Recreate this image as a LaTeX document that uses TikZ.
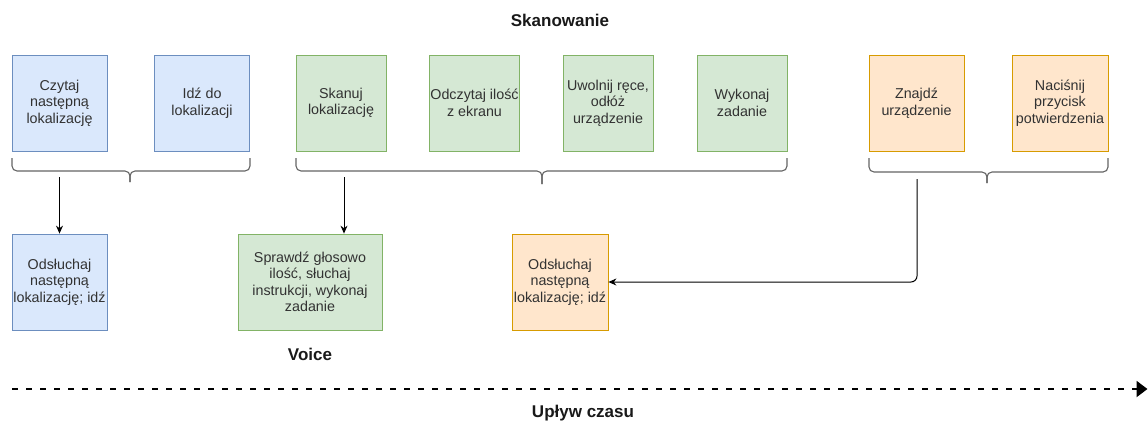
\documentclass[tikz,border=0pt]{standalone}
\usepackage{fontspec}
\setmainfont{Liberation Sans}
\usetikzlibrary{arrows.meta,calc}
\definecolor{bluefill}{HTML}{DAE8FC}
\definecolor{bluedraw}{HTML}{6C8EBF}
\definecolor{greenfill}{HTML}{D5E8D4}
\definecolor{greendraw}{HTML}{82B366}
\definecolor{orangefill}{HTML}{FFE6CC}
\definecolor{orangedraw}{HTML}{D79B00}
\definecolor{bodytext}{RGB}{50,50,50}
\definecolor{bracegray}{RGB}{100,100,100}
\tikzset{
  box/.style={draw, line width=0.8pt, minimum height=96pt, inner sep=0pt,
    align=center, text=bodytext, font=\fontsize{14.3}{16.5}\selectfont},
  bluebox/.style={box, fill=bluefill, draw=bluedraw, minimum width=95pt},
  greenbox/.style={box, fill=greenfill, draw=greendraw, minimum width=90pt},
  orangebox/.style={box, fill=orangefill, draw=orangedraw, minimum width=95pt},
  heading/.style={font=\bfseries\fontsize{17}{20}\selectfont, text=black!90},
  bracket/.style={draw=bracegray, line width=1.1pt, rounded corners=5pt},
  conn/.style={draw=black, line width=1pt, -{Stealth[length=8pt,width=7pt]}},
  timeline/.style={draw=black, line width=2pt, dash pattern=on 6pt off 8pt,
    -{Triangle[length=11pt,width=16pt]}}
}
\begin{document}
\begin{tikzpicture}[x=1pt,y=-1pt]
  \useasboundingbox (0,0) rectangle (1148,423);

  % top row of steps
  \node[bluebox] (czytaj) at (59.5,103) {Czytaj\\następną\\lokalizację};
  \node[bluebox] (idz) at (202,103) {Idź do\\lokalizacji};
  \node[greenbox] (skanuj) at (341,103) {Skanuj\\lokalizację};
  \node[greenbox] (odczytaj) at (474.5,103) {Odczytaj ilość\\z ekranu};
  \node[greenbox] (uwolnij) at (608,103) {Uwolnij ręce,\\odłóż\\urządzenie};
  \node[greenbox] (wykonaj) at (742,103) {Wykonaj\\zadanie};
  \node[orangebox] (znajdz) at (916.5,103) {Znajdź\\urządzenie};
  \node[orangebox, minimum width=96pt] (nacisnij) at (1060,103) {Naciśnij\\przycisk\\potwierdzenia};

  % bottom row of steps
  \node[bluebox] (odsluchaj) at (59.5,282) {Odsłuchaj\\następną\\lokalizację; idź};
  \node[greenbox, minimum width=144pt] (sprawdz) at (310,282) {Sprawdź głosowo\\ilość, słuchaj\\instrukcji, wykonaj\\zadanie};
  \node[orangebox, minimum width=96pt] (odsluchajB) at (560,282) {Odsłuchaj\\następną\\lokalizację; idź};

  % headings
  \node[heading] (skanowanie) at (560,20) {Skanowanie};
  \node[heading] (voice) at (310,354) {Voice};
  \node[heading] (uplyw) at (583,413) {Upływ czasu};

  % curly brackets under the groups
  \draw[bracket] (12,158) |- (130,171) -- (130,182);
  \draw[bracket] (250,158) |- (130,171) -- (130,182);
  \draw[bracket] (296,158) |- (542,171) -- (542,184);
  \draw[bracket] (787,158) |- (542,171) -- (542,184);
  \draw[bracket] (869,158) |- (987,172) -- (987,183);
  \draw[bracket] (1108,158) |- (987,172) -- (987,183);

  % connector starts below the brackets
  \coordinate (s1) at (59.5,177);
  \coordinate (s2) at (344,177);
  \coordinate (s3) at (917,179);

  \draw[conn] (s1) -- (odsluchaj.north);
  \draw[conn] (s2) -- (s2 |- sprawdz.north);
  \draw[conn, rounded corners=6pt] (s3) |- (odsluchajB.east);

  % time axis
  \coordinate (t0) at (12,389);
  \coordinate (t1) at (1147.5,389);
  \draw[timeline] (t0) -- (t1);
\end{tikzpicture}
\end{document}
